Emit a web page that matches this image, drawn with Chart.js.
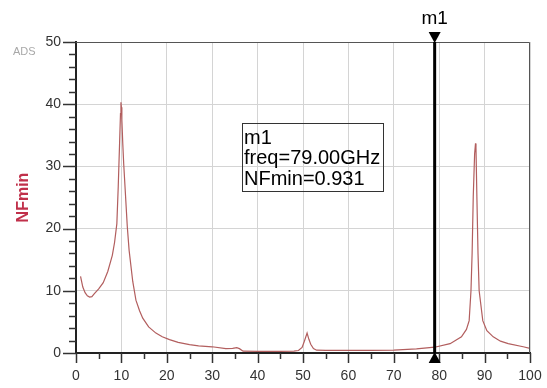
<!DOCTYPE html>
<html>
<head>
<meta charset="utf-8">
<script src="https://cdn.jsdelivr.net/npm/chart.js@4"></script>
<style>
  html, body { margin: 0; padding: 0; background: #fff; }
  #wrap { width: 547px; height: 388px; position: relative; }
</style>
</head>
<body>
<div id="wrap"><canvas id="nfChart"></canvas></div>
<script>
// Frequency (GHz) and NFmin values
const freq = [1, 1.5, 2, 2.5, 3, 3.5, 4, 5, 6, 7, 8, 8.5, 9, 9.3, 9.6, 9.8, 9.9, 10.0, 10.1, 10.3, 10.5, 10.8, 11.3, 11.7, 12.5, 13.2, 14, 14.7, 16, 17.6, 19, 20.6, 22.5, 25, 27, 30, 33, 34.5, 35.4, 36, 36.8, 40, 45, 48, 49, 49.8, 50.3, 50.9, 51.3, 51.7, 52.3, 53, 55, 60, 65, 70, 75, 79, 82.4, 84.9, 86, 86.6, 87.0, 87.25, 87.5, 87.8, 88.0, 88.1, 88.3, 88.55, 88.8, 89.6, 90.5, 91.9, 93.5, 95.2, 98.5, 100];
const nfmin = [12.3, 10.6, 9.7, 9.2, 9.0, 9.05, 9.5, 10.3, 11.3, 13.1, 15.7, 17.8, 20.8, 26.7, 33.7, 38.5, 40.3, 39.5, 37.5, 33.7, 30.5, 26.7, 20.3, 16.5, 11.5, 8.5, 6.8, 5.6, 4.2, 3.2, 2.6, 2.15, 1.7, 1.35, 1.15, 1.0, 0.7, 0.75, 0.85, 0.7, 0.3, 0.27, 0.27, 0.3, 0.4, 0.9, 1.9, 3.2, 2.2, 1.4, 0.7, 0.45, 0.42, 0.42, 0.43, 0.45, 0.65, 0.93, 1.5, 2.6, 3.8, 5.2, 10, 16, 25.1, 32, 33.7, 33, 25.1, 16, 10, 5.2, 3.6, 2.6, 1.9, 1.5, 1.0, 0.75];

const xTicks = [0, 10, 20, 30, 40, 50, 60, 70, 80, 90, 100];
const yTicks = [0, 10, 20, 30, 40, 50];

// Marker m1
const markerName = 'm1';
const markerFreq = 79.00;
const markerValue = 0.931;

const points = freq.map((f, i) => ({ x: f, y: nfmin[i] }));

// Tick marks (long for labelled, short for minor), frame, marker and labels
const adsPlugin = {
  id: 'adsPlugin',
  afterDraw(chart) {
    const ctx = chart.ctx;
    const area = chart.chartArea;
    const xs = chart.scales.x;
    const ys = chart.scales.y;

    ctx.save();
    // top / right frame
    ctx.strokeStyle = '#555';
    ctx.lineWidth = 1;
    ctx.beginPath();
    ctx.moveTo(area.left, area.top + 0.5);
    ctx.lineTo(area.right - 0.5, area.top + 0.5);
    ctx.lineTo(area.right - 0.5, area.bottom);
    ctx.stroke();

    // tick marks
    ctx.strokeStyle = '#333';
    ctx.lineWidth = 1.5;
    xs.ticks.forEach(t => {
      const px = Math.round(xs.getPixelForValue(t.value)) + 0.5;
      const len = xTicks.includes(t.value) ? 10 : 6;
      ctx.beginPath();
      ctx.moveTo(px, area.bottom);
      ctx.lineTo(px, area.bottom + len);
      ctx.stroke();
    });
    ys.ticks.forEach(t => {
      const py = Math.round(ys.getPixelForValue(t.value)) + 0.5;
      const len = yTicks.includes(t.value) ? 13 : 7;
      ctx.beginPath();
      ctx.moveTo(area.left, py);
      ctx.lineTo(area.left - len, py);
      ctx.stroke();
    });

    // marker line with triangles
    const mx = xs.getPixelForValue(markerFreq);
    ctx.strokeStyle = '#000';
    ctx.lineWidth = 3;
    ctx.beginPath();
    ctx.moveTo(mx, area.top);
    ctx.lineTo(mx, area.bottom);
    ctx.stroke();
    ctx.fillStyle = '#000';
    ctx.beginPath();
    ctx.moveTo(mx - 6, area.top - 10);
    ctx.lineTo(mx + 6, area.top - 10);
    ctx.lineTo(mx, area.top + 1);
    ctx.closePath();
    ctx.fill();
    ctx.beginPath();
    ctx.moveTo(mx - 6, area.bottom + 10);
    ctx.lineTo(mx + 6, area.bottom + 10);
    ctx.lineTo(mx, area.bottom - 1);
    ctx.closePath();
    ctx.fill();

    ctx.font = '19px "Liberation Sans", Arial, sans-serif';
    ctx.textAlign = 'center';
    ctx.textBaseline = 'middle';
    ctx.fillText(markerName, mx, 19);

    // marker readout box
    ctx.strokeStyle = '#333';
    ctx.lineWidth = 1;
    ctx.strokeRect(242.5, 123.5, 141, 68);
    ctx.font = '20px "Liberation Sans", Arial, sans-serif';
    ctx.textAlign = 'left';
    ctx.fillStyle = '#000';
    ctx.fillText(markerName, 244, 138);
    ctx.fillText('freq=' + markerFreq.toFixed(2) + 'GHz', 244, 158.5);
    ctx.fillText('NFmin=' + markerValue.toFixed(3), 244, 179);

    // ADS tag
    ctx.font = '11px "Liberation Sans", Arial, sans-serif';
    ctx.fillStyle = '#a8a8a8';
    ctx.fillText('ADS', 13, 52);
    ctx.restore();
  }
};

const ctx = document.getElementById('nfChart').getContext('2d');
const nfChart = new Chart(ctx, {
  type: 'scatter',
  data: {
    datasets: [{
      data: points,
      showLine: true,
      borderColor: '#b25e5e',
      borderWidth: 1.2,
      pointRadius: 0,
      tension: 0
    }]
  },
  options: {
    responsive: true,
    maintainAspectRatio: false,
    animation: false,
    layout: { padding: { left: 0, top: 42, right: 17, bottom: 0 } },
    plugins: {
      legend: { display: false },
      tooltip: { enabled: false }
    },
    scales: {
      x: {
        type: 'linear',
        min: 0,
        max: 100,
        afterFit(scale) {
          scale.height = 35;
          scale.paddingLeft = 0;
          scale.paddingRight = 0;
        },
        ticks: {
          stepSize: 5,
          autoSkip: false,
          padding: 15,
          color: '#333',
          font: { family: '"Liberation Sans", Arial, sans-serif', size: 14 },
          maxRotation: 0,
          callback: v => (xTicks.includes(v) ? v : '')
        },
        grid: {
          drawTicks: false,
          color: c => (c.tick && xTicks.includes(c.tick.value) ? '#d4d4d4' : 'rgba(0,0,0,0)')
        },
        border: { color: '#222', width: 2 }
      },
      y: {
        min: 0,
        max: 50,
        afterFit(scale) {
          scale.width = 76;
          scale.paddingTop = 0;
          scale.paddingBottom = 0;
        },
        ticks: {
          stepSize: 2,
          autoSkip: false,
          padding: 15,
          color: '#333',
          font: { family: '"Liberation Sans", Arial, sans-serif', size: 14 },
          callback: v => (yTicks.includes(v) ? v : '')
        },
        grid: {
          drawTicks: false,
          color: c => (c.tick && yTicks.includes(c.tick.value) ? '#d4d4d4' : 'rgba(0,0,0,0)')
        },
        border: { color: '#222', width: 2 },
        title: {
          display: true,
          text: 'NFmin',
          color: '#c0304a',
          font: { family: '"Liberation Sans", Arial, sans-serif', size: 16, weight: 'bold' },
          padding: { top: 14, bottom: 0 }
        }
      }
    }
  },
  plugins: [adsPlugin]
});
</script>
</body>
</html>
